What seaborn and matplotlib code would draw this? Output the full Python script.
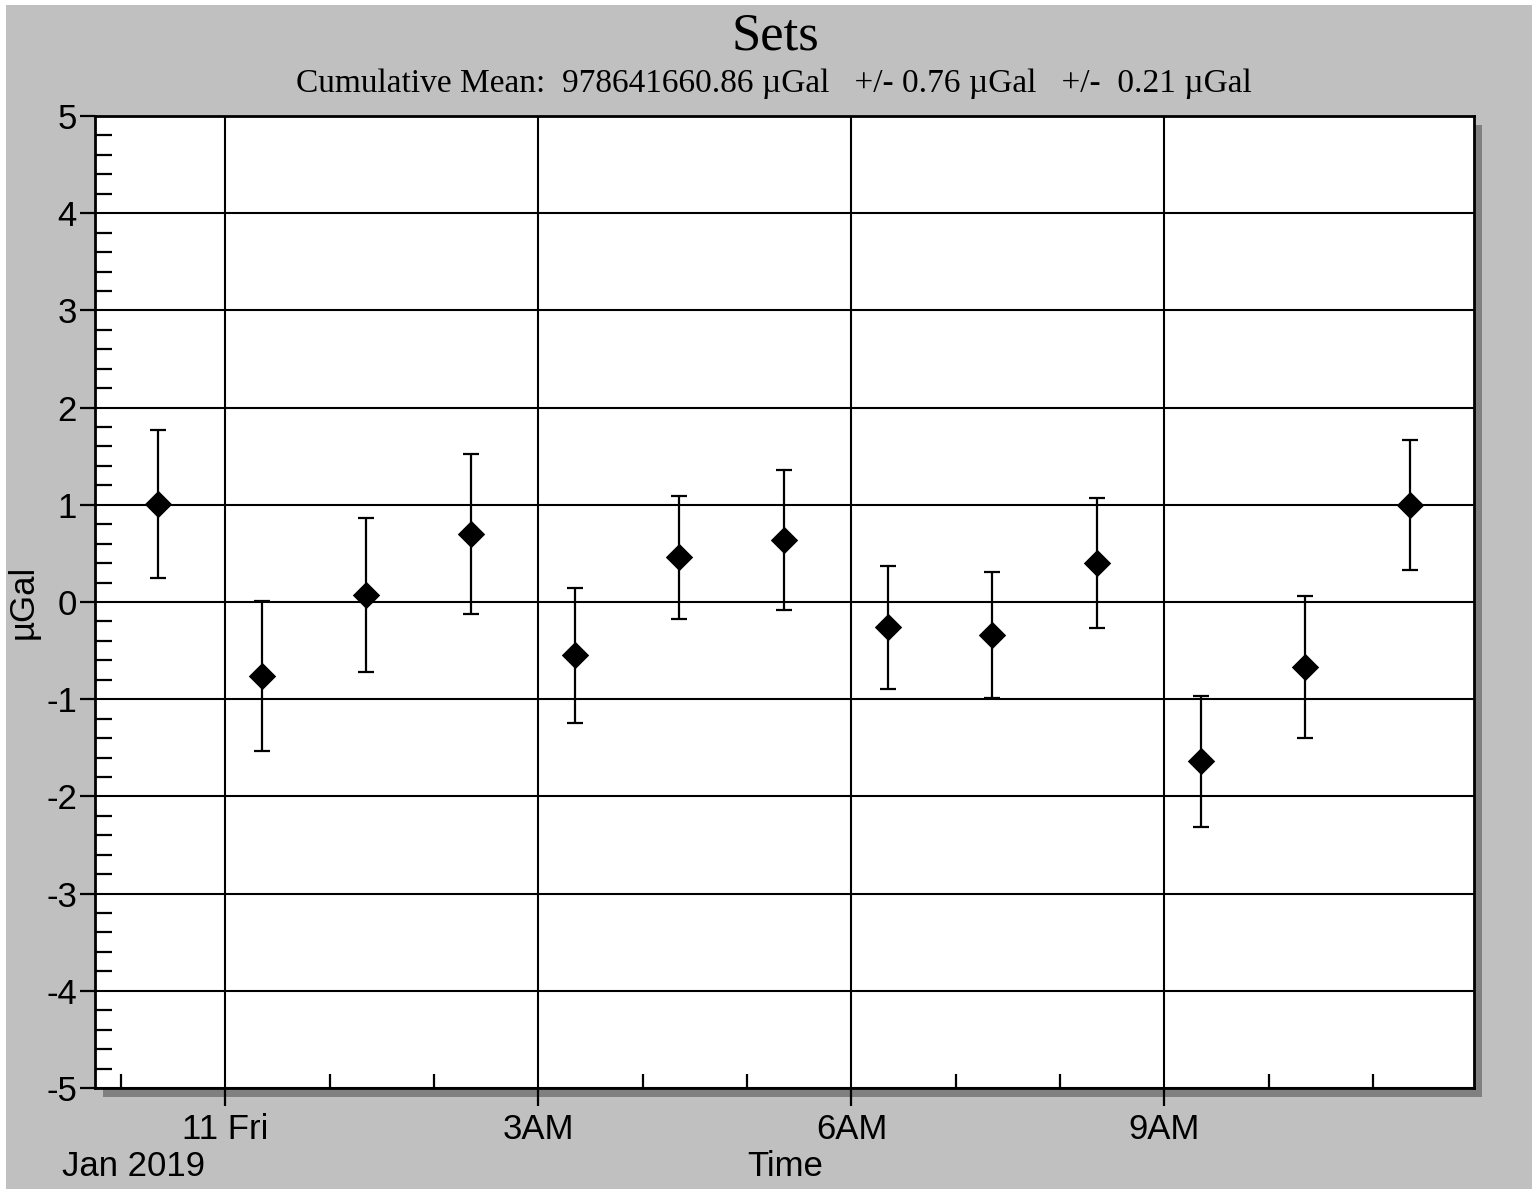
import numpy as np
import pandas as pd
import matplotlib
matplotlib.use("Agg")
import matplotlib.pyplot as plt
import matplotlib.dates as mdates
from matplotlib.patches import Rectangle
import seaborn as sns

# ---- data ----
set_times = ["2019-01-10 23:21", "2019-01-11 00:21", "2019-01-11 01:21", "2019-01-11 02:21",
             "2019-01-11 03:21", "2019-01-11 04:21", "2019-01-11 05:21", "2019-01-11 06:21",
             "2019-01-11 07:21", "2019-01-11 08:21", "2019-01-11 09:21", "2019-01-11 10:21",
             "2019-01-11 11:21"]
set_values = [1.01, -0.76, 0.07, 0.70, -0.55, 0.46, 0.64, -0.26, -0.34, 0.40, -1.64, -0.67, 1.00]
set_errors = [0.76, 0.77, 0.79, 0.82, 0.69, 0.63, 0.72, 0.63, 0.65, 0.67, 0.67, 0.73, 0.67]
major_ticks = ["2019-01-11 00:00", "2019-01-11 03:00", "2019-01-11 06:00", "2019-01-11 09:00"]
major_labels = ["11 Fri", "3AM", "6AM", "9AM"]
x_range = ["2019-01-10 22:45", "2019-01-11 11:58"]
y_range = [-5, 5]
title = "Sets"
subtitle = "Cumulative Mean:  978641660.86 \u00b5Gal   +/- 0.76 \u00b5Gal   +/-  0.21 \u00b5Gal"

df = pd.DataFrame({"time": pd.to_datetime(set_times), "value": set_values, "err": set_errors})

sns.set_style("white")
plt.rcParams['font.family'] = ['Liberation Sans', 'DejaVu Sans']
plt.rcParams['text.color'] = 'black'
plt.rcParams['axes.labelcolor'] = 'black'
plt.rcParams['xtick.color'] = 'black'
plt.rcParams['ytick.color'] = 'black'
plt.rcParams['axes.unicode_minus'] = False

W, H = 1532, 1189
fig = plt.figure(figsize=(W / 100, H / 100), dpi=100, facecolor="white")

# gray background (thin white strip at top and left)
fig.patches.append(Rectangle((6 / W, 0), 1 - 6 / W, 1 - 5 / H, transform=fig.transFigure,
                             facecolor="#c0c0c0", edgecolor="none", zorder=-3))
# plot box position
L, R, T, B = 95, 1474, 116, 1088
# shadow
fig.patches.append(Rectangle(((L + 8) / W, 1 - (B + 9) / H), (R - L) / W, (B - T) / H,
                             transform=fig.transFigure, facecolor="#808080", edgecolor="none", zorder=-2))

ax = fig.add_axes([L / W, 1 - B / H, (R - L) / W, (B - T) / H])
ax.set_facecolor("white")

ax.errorbar(df["time"], df["value"], yerr=df["err"], fmt="none", ecolor="black",
            elinewidth=1.6, capsize=5.5, capthick=1.6, zorder=3)
sns.scatterplot(data=df, x="time", y="value", marker="D", s=195, color="black",
                edgecolor="black", linewidth=0, ax=ax, zorder=4)

ax.set_xlim(pd.to_datetime(x_range[0]), pd.to_datetime(x_range[1]))
ax.set_ylim(*y_range)

# x ticks
ax.set_xticks(pd.to_datetime(major_ticks))
ax.set_xticklabels(major_labels)
ax.xaxis.set_minor_locator(mdates.HourLocator())
ax.tick_params(axis="x", which="major", direction="out", length=13, width=1.6,
               labelsize=25, pad=5, color="black", labelcolor="black", bottom=True)
ax.tick_params(axis="x", which="minor", direction="in", length=10, width=1.6, bottom=True)

# y ticks
ax.set_yticks(np.arange(y_range[0], y_range[1] + 1, 1))
ax.yaxis.set_minor_locator(matplotlib.ticker.MultipleLocator(0.2))
ax.tick_params(axis="y", which="major", direction="out", length=11, width=1.6,
               labelsize=25, pad=2, color="black", labelcolor="black", left=True)
ax.tick_params(axis="y", which="minor", direction="in", length=12, width=1.6, left=True)

ax.grid(True, which="major", color="black", linewidth=1.5)
ax.set_axisbelow(True)
for sp in ax.spines.values():
    sp.set_visible(True)
    sp.set_color("black")
    sp.set_linewidth(2.0)

ax.set_xlabel("")
ax.set_ylabel("\u00b5Gal", fontsize=25, va="center", color="black")
ax.yaxis.set_label_coords((23 - L) / (R - L), 0.5)

fig.text(785 / W, 1 - 1166 / H, "Time", ha="center", va="center", fontsize=25)
fig.text(134 / W, 1 - 1166 / H, "Jan 2019", ha="center", va="center", fontsize=25)

fig.text(775 / W, 1 - 37 / H, title, ha="center", va="center", fontsize=38,
         family=["Liberation Serif", "DejaVu Serif"])
fig.text(774 / W, 1 - 84 / H, subtitle, ha="center", va="center", fontsize=24,
         family=["Liberation Serif", "DejaVu Serif"])

fig.savefig("out.png", dpi=100, facecolor=fig.get_facecolor())
